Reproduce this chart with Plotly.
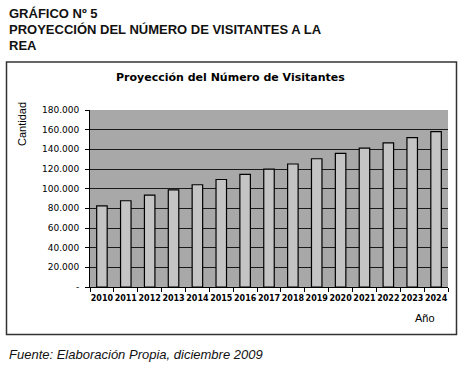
import plotly.graph_objects as go

years = ["2010", "2011", "2012", "2013", "2014", "2015", "2016", "2017",
         "2018", "2019", "2020", "2021", "2022", "2023", "2024"]
visitors = [82500, 87700, 93400, 98800, 104000, 109300, 114500, 119800,
            125100, 130400, 135800, 141300, 146500, 151900, 158000]
y_ticks = [0, 20000, 40000, 60000, 80000, 100000, 120000, 140000, 160000, 180000]
y_tick_labels = ["-", "20.000", "40.000", "60.000", "80.000", "100.000",
                 "120.000", "140.000", "160.000", "180.000"]
header_lines = ["GRÁFICO Nº 5", "PROYECCIÓN DEL NÚMERO DE VISITANTES A LA", "REA"]

W, H = 464, 373
L, R, T, B = 90, 448, 110, 287  # plot area in pixels


def px(x):
    return (x - L) / (R - L)


def py(y):
    return (B - y) / (B - T)


fig = go.Figure(go.Bar(
    x=years, y=visitors,
    marker=dict(color="#c4c4c4", line=dict(color="#000000", width=1.2)),
    width=0.44,
))

annotations = []
for i, line in enumerate(header_lines):
    annotations.append(dict(
        text=line, xref="paper", yref="paper", x=px(7), y=py(14 + i * 15.7),
        xanchor="left", yanchor="middle", showarrow=False,
        font=dict(family="Liberation Sans", size=13, color="#111111", weight="bold")))

annotations += [
    dict(text="Proyección del Número de Visitantes",
         xref="paper", yref="paper", x=px(230), y=py(78), xanchor="center", yanchor="middle",
         showarrow=False,
         font=dict(family="DejaVu Sans", size=11, color="#000000", weight="bold")),
    dict(text="Cantidad", textangle=-90,
         xref="paper", yref="paper", x=px(22), y=py(124), xanchor="center", yanchor="middle",
         showarrow=False,
         font=dict(family="Liberation Sans", size=11, color="#000000")),
    dict(text="Año",
         xref="paper", yref="paper", x=px(425), y=py(318), xanchor="center", yanchor="middle",
         showarrow=False,
         font=dict(family="Liberation Sans", size=11, color="#000000")),
    dict(text="<i>Fuente: Elaboración Propia, diciembre 2009</i>",
         xref="paper", yref="paper", x=px(7), y=py(354), xanchor="left", yanchor="middle",
         showarrow=False,
         font=dict(family="Liberation Sans", size=13, color="#111111")),
]

fig.update_layout(
    width=W, height=H,
    margin=dict(l=L, r=W - R, t=T, b=H - B, pad=0),
    paper_bgcolor="#ffffff",
    plot_bgcolor="#a8a8a8",
    showlegend=False,
    bargap=0.56,
    xaxis=dict(
        type="category",
        tickson="boundaries",
        ticks="outside", ticklen=4, tickcolor="#000000",
        showline=True, linecolor="#000000", linewidth=1,
        showgrid=False,
        tickfont=dict(family="DejaVu Sans", size=8, color="#000000", weight="bold"),
        tickangle=0,
        ticklabelstandoff=3,
        range=[-0.5, 14.5],
    ),
    yaxis=dict(
        range=[0, 180000],
        tickvals=y_ticks, ticktext=y_tick_labels,
        ticks="outside", ticklen=4, tickcolor="#000000",
        showline=True, linecolor="#000000", linewidth=1,
        showgrid=True, gridcolor="#1a1a1a", gridwidth=1,
        zeroline=False,
        tickfont=dict(family="DejaVu Sans", size=9, color="#000000"),
        ticklabelstandoff=4,
    ),
    shapes=[
        dict(type="rect", xref="paper", yref="paper",
             x0=px(6.5), x1=px(456.5), y0=py(334.5), y1=py(62),
             line=dict(color="#333333", width=1.5), fillcolor="rgba(0,0,0,0)",
             layer="below"),
    ],
    annotations=annotations,
)

fig.write_html("out.html", config={"displayModeBar": False},
               post_script="document.body.style.margin='0';")
